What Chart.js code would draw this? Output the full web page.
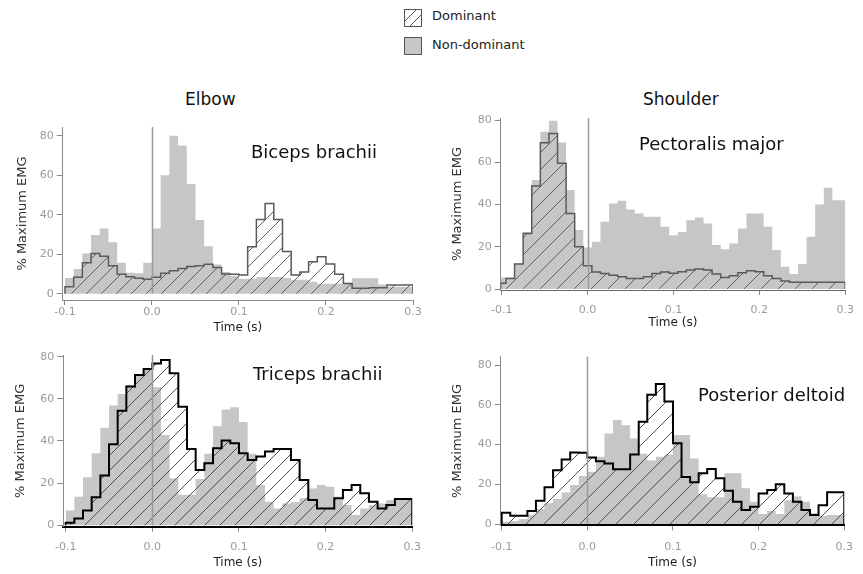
<!DOCTYPE html>
<html>
<head>
<meta charset="utf-8">
<script src="https://cdn.jsdelivr.net/npm/chart.js@4.4.1/dist/chart.umd.min.js"></script>
<style>
  body { margin: 0; background: #fff; }
  #wrap { position: relative; width: 863px; height: 574px; overflow: hidden; font-family: "DejaVu Sans", sans-serif; }
  #wrap canvas { position: absolute; }
  .lbl { position: absolute; white-space: nowrap; color: #111; line-height: normal; }
</style>
</head>
<body>
<div id="wrap">
  <canvas id="swatchDom" width="18" height="18" style="left:404px;top:9px"></canvas>
  <div class="lbl" style="left:432px;top:8px;font-size:13px;color:#222">Dominant</div>
  <div style="position:absolute;left:404px;top:37px;width:16px;height:16px;background:#c6c6c6;border:1px solid #555"></div>
  <div class="lbl" style="left:432px;top:37px;font-size:13px;color:#222">Non-dominant</div>

  <div class="lbl" style="left:185px;top:89px;font-size:17px">Elbow</div>
  <div class="lbl" style="left:643px;top:89px;font-size:17px">Shoulder</div>

  <canvas id="biceps" width="430" height="230" style="left:0;top:110px"></canvas>
  <canvas id="pectoralis" width="423" height="240" style="left:440px;top:100px"></canvas>
  <canvas id="triceps" width="430" height="234" style="left:0;top:340px"></canvas>
  <canvas id="deltoid" width="423" height="234" style="left:440px;top:340px"></canvas>

  <div class="lbl" style="left:251px;top:141px;font-size:18px">Biceps brachii</div>
  <div class="lbl" style="left:639px;top:133px;font-size:18px">Pectoralis major</div>
  <div class="lbl" style="left:253px;top:363px;font-size:18px">Triceps brachii</div>
  <div class="lbl" style="left:698px;top:384px;font-size:18px">Posterior deltoid</div>
</div>
<script>
// Axis ticks shared by all four panels
const timeTicks = [-0.1, 0.0, 0.1, 0.2, 0.3];
const emgTicks = [0, 20, 40, 60, 80];
const binWidth = 0.01;

// Elbow - biceps brachii (bins start at -0.1 s)
const bicepsStart = -0.1;
const bicepsDominant = [1, 3.5, 8.3, 15.7, 20.4, 19, 14.2, 9.8, 8.6, 7.8,
  7.3, 8.3, 10.3, 11.6, 12.8, 13.7, 14.2, 14.9, 13.2, 10,
  9.8, 9.5, 23.8, 37.6, 45.7, 37.6, 21.3, 9.5, 11, 16.2,
  18.7, 15, 9.8, 5.2, 2.7, 2.7, 3, 3, 4.4, 4.4];
const bicepsNonDominant = [4.5, 8, 12.5, 20.4, 29.7, 33, 26, 15.7, 10.6, 10.3,
  15.7, 33, 60, 80, 75, 55.5, 37.3, 24, 14.8, 11,
  9, 7.5, 7.5, 8.5, 8.5, 8.5, 8, 7, 7, 6,
  5, 5, 5, 5.5, 7.8, 7.8, 7.8, 4.7, 3.5, 3.5];

// Shoulder - pectoralis major (bins centred on each 10 ms step)
const pectoralisStart = -0.105;
const pectoralisDominant = [1.1, 2.7, 5, 11.8, 26.3, 48.8, 69.3, 73.7, 59.6, 35.8,
  20, 11, 8, 7.4, 6.5, 5.8, 5, 5, 5.8, 7.4,
  8, 7.5, 8.2, 9, 9.5, 9, 7.1, 5.4, 6.3, 7.7,
  8.7, 8.2, 6.3, 5, 3.8, 3.2, 3.2, 3.2, 3.2, 3.2, 3.2];
const pectoralisNonDominant = [7, 5.5, 5.5, 12, 27, 51.6, 74.5, 79.7, 69.4, 46.9,
  27.9, 19.7, 22.4, 31.9, 40.5, 41.8, 37.7, 35.8, 34.2, 34.2,
  29.5, 25.5, 27, 32.6, 33.9, 31, 20.8, 18.8, 21.6, 28.7,
  35.8, 35.8, 29.5, 18.5, 10.6, 7.1, 11.8, 24.8, 40, 48, 42];

// Elbow - triceps brachii
const tricepsStart = -0.1;
const tricepsDominant = [0.8, 1.2, 3.2, 7, 13.3, 23.6, 38.4, 54.4, 65.8, 71.3,
  74.2, 76.8, 78.4, 72.1, 56.3, 36.2, 26.2, 29.4, 36.5, 40.2,
  38.9, 34.2, 31, 32.6, 35, 36.2, 36.2, 31, 21.5, 12,
  8, 8, 12.8, 16.8, 19.1, 15.2, 11.2, 8, 9.6, 12.5];
const tricepsNonDominant = [2.8, 7, 13.6, 22.8, 34.2, 46.3, 56.8, 62.3, 66.6, 71,
  74.5, 65.5, 42.8, 22.3, 14.5, 14.5, 22, 34, 47, 55,
  56, 49, 34, 19.1, 11.2, 8, 10.4, 11, 12.8, 17.5,
  19.1, 18.3, 13.6, 9.6, 4.9, 8, 9.6, 10.4, 12, 12.5];

// Shoulder - posterior deltoid
const deltoidStart = -0.1;
const deltoidDominant = [6.2, 5.7, 4.2, 4.2, 6.5, 11.7, 18.5, 27, 32.5, 36,
  35.9, 33.5, 31.6, 30.5, 27.6, 27.6, 35, 51.4, 65, 70.5,
  61.6, 40.6, 23.7, 21, 25.5, 27.7, 23, 16.8, 11.2, 7,
  8.7, 15.4, 17.1, 20, 15.4, 11.2, 7, 4.5, 9.5, 16];
const deltoidNonDominant = [1, 1, 1.5, 2.5, 4.5, 7.5, 10.4, 12.6, 15.8, 19.6,
  24.1, 26.3, 33.8, 45.6, 52.3, 49.7, 43, 35.3, 32, 33.8,
  35, 44.8, 44.8, 33, 15, 13.5, 13.5, 25.5, 25.5, 18,
  11.2, 5, 6.5, 5, 12, 13.8, 11.2, 5.4, 4.2, 4.5];

const FONT = '"DejaVu Sans", sans-serif';
const GRAY_FILL = '#c6c6c6';

// Diagonal "/" hatching on a transparent tile
function hatchPattern(ctx, size, color) {
  const tile = document.createElement('canvas');
  tile.width = size; tile.height = size;
  const g = tile.getContext('2d');
  g.strokeStyle = color; g.lineWidth = 1;
  g.beginPath();
  g.moveTo(0, size); g.lineTo(size, 0);
  g.moveTo(-size / 2, size / 2); g.lineTo(size / 2, -size / 2);
  g.moveTo(size / 2, size * 1.5); g.lineTo(size * 1.5, size / 2);
  g.stroke();
  return ctx.createPattern(tile, 'repeat');
}

// Histogram outline as step points on bin edges, closed down to zero
function stepPoints(start, values, xMin, xMax) {
  const clamp = v => Math.min(xMax, Math.max(xMin, v));
  const pts = [{ x: clamp(start), y: 0 }];
  values.forEach((v, i) => pts.push({ x: clamp(start + i * binWidth), y: v }));
  const end = clamp(start + values.length * binWidth);
  pts.push({ x: end, y: values[values.length - 1] });
  pts.push({ x: end, y: 0 });
  return pts;
}

const zeroLine = {
  id: 'zeroLine',
  afterDatasetsDraw(chart) {
    const { ctx, chartArea, scales: { x, y } } = chart;
    const px = Math.round(x.getPixelForValue(0)) + 0.5;
    ctx.save();
    ctx.strokeStyle = '#9a9a9a';
    ctx.lineWidth = 1.5;
    ctx.beginPath();
    ctx.moveTo(px, chartArea.top);
    ctx.lineTo(px, y.getPixelForValue(0));
    ctx.stroke();
    ctx.restore();
  }
};

function panel(id, p) {
  const canvas = document.getElementById(id);
  const ctx = canvas.getContext('2d');
  const xMax = 0.3;
  return new Chart(ctx, {
    type: 'line',
    data: {
      datasets: [
        {
          label: 'Dominant',
          data: stepPoints(p.start, p.dominant, p.xMin, xMax),
          stepped: 'after',
          fill: 'origin',
          backgroundColor: hatchPattern(ctx, p.hatch, p.hatchColor),
          borderColor: p.outline,
          borderWidth: p.outlineWidth,
          pointRadius: 0,
          order: 0
        },
        {
          label: 'Non-dominant',
          data: stepPoints(p.start, p.nonDominant, p.xMin, xMax),
          stepped: 'after',
          fill: 'origin',
          backgroundColor: GRAY_FILL,
          borderColor: 'rgba(0,0,0,0)',
          borderWidth: 1,
          pointRadius: 0,
          order: 1
        }
      ]
    },
    options: {
      responsive: false,
      animation: false,
      devicePixelRatio: 1,
      events: [],
      layout: { padding: { top: p.padTop, right: p.padRight, left: 0, bottom: 0 } },
      plugins: { legend: { display: false }, tooltip: { enabled: false } },
      scales: {
        x: {
          type: 'linear',
          min: p.xMin,
          max: xMax,
          afterBuildTicks: s => { s.ticks = timeTicks.map(v => ({ value: v })); },
          afterFit: s => { s.height = p.xAxisHeight; },
          grid: { display: true, drawOnChartArea: false, drawTicks: true, tickLength: 5, color: '#8a8a8a' },
          border: { display: true, color: p.xAxisColor, width: p.xAxisWidth },
          ticks: {
            color: '#9a9a9a', font: { family: FONT, size: 11 }, padding: p.xTickPad,
            maxRotation: 0, autoSkip: false,
            callback: v => Number(v).toFixed(1)
          },
          title: {
            display: true, text: 'Time (s)', color: '#222',
            font: { family: FONT, size: 12 }, padding: { top: 0, bottom: p.xTitlePad }
          }
        },
        y: {
          min: p.yMin,
          max: p.yMax,
          afterBuildTicks: s => { s.ticks = emgTicks.map(v => ({ value: v })); },
          afterFit: s => { s.width = p.yAxisWidth; },
          grid: { display: true, drawOnChartArea: false, drawTicks: true, tickLength: 6, color: '#8a8a8a' },
          border: { display: true, color: '#8a8a8a', width: 1 },
          ticks: { color: '#9a9a9a', font: { family: FONT, size: 11 }, padding: 3 },
          title: {
            display: true, text: '% Maximum EMG', color: '#333',
            font: { family: FONT, size: 13 }, padding: { top: p.yTitlePad, bottom: 0 }
          }
        }
      }
    },
    plugins: [zeroLine]
  });
}

panel('biceps', {
  start: bicepsStart, dominant: bicepsDominant, nonDominant: bicepsNonDominant,
  xMin: -0.1026, yMin: -3.2, yMax: 84.4,
  padTop: 17, padRight: 17, xAxisHeight: 40, yAxisWidth: 62.7,
  xTickPad: 1, xTitlePad: 4.8, yTitlePad: 15,
  hatch: 15, hatchColor: '#606060', outline: '#5a5a5a', outlineWidth: 1.5,
  xAxisColor: '#8a8a8a', xAxisWidth: 1
});

panel('pectoralis', {
  start: pectoralisStart, dominant: pectoralisDominant, nonDominant: pectoralisNonDominant,
  xMin: -0.10115, yMin: -0.47, yMax: 81,
  padTop: 18, padRight: 13.7, xAxisHeight: 50, yAxisWidth: 60.7,
  xTickPad: 9, xTitlePad: 9.8, yTitlePad: 10.2,
  hatch: 17, hatchColor: '#606060', outline: '#5a5a5a', outlineWidth: 1.5,
  xAxisColor: '#666', xAxisWidth: 1
});

panel('triceps', {
  start: tricepsStart, dominant: tricepsDominant, nonDominant: tricepsNonDominant,
  xMin: -0.10276, yMin: -0.66, yMax: 80.8,
  padTop: 15, padRight: 16.7, xAxisHeight: 47.3, yAxisWidth: 63.3,
  xTickPad: 9, xTitlePad: 3.8, yTitlePad: 13,
  hatch: 15, hatchColor: '#505050', outline: '#000', outlineWidth: 2,
  xAxisColor: '#000', xAxisWidth: 2
});

panel('deltoid', {
  start: deltoidStart, dominant: deltoidDominant, nonDominant: deltoidNonDominant,
  xMin: -0.10115, yMin: -0.65, yMax: 84.2,
  padTop: 16.7, padRight: 13.7, xAxisHeight: 48.7, yAxisWidth: 60.7,
  xTickPad: 10, xTitlePad: 3.8, yTitlePad: 10,
  hatch: 18, hatchColor: '#505050', outline: '#000', outlineWidth: 2,
  xAxisColor: '#000', xAxisWidth: 2
});

// Legend swatch for the hatched series
(function () {
  const c = document.getElementById('swatchDom').getContext('2d');
  c.fillStyle = '#fff'; c.fillRect(0, 0, 18, 18);
  c.strokeStyle = '#555'; c.lineWidth = 1;
  c.beginPath();
  c.moveTo(1, 12); c.lineTo(12, 1);
  c.moveTo(6, 17); c.lineTo(17, 6);
  c.stroke();
  c.strokeRect(0.5, 0.5, 17, 17);
})();
</script>
</body>
</html>
